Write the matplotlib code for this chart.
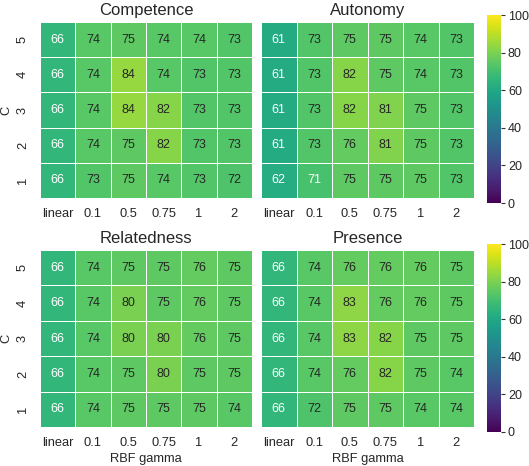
import numpy as np
import seaborn as sns
from matplotlib import pyplot as plt

# data (rows: C = 5..1, cols: linear + RBF gamma values)
c_labels = ['5', '4', '3', '2', '1']
gamma_labels = ['linear', '0.1', '0.5', '0.75', '1', '2']

competence = [[66, 74, 75, 74, 74, 73],
              [66, 74, 84, 74, 73, 73],
              [66, 74, 84, 82, 73, 73],
              [66, 74, 75, 82, 73, 73],
              [66, 73, 75, 74, 73, 72]]
autonomy = [[61, 73, 75, 75, 74, 73],
            [61, 73, 82, 75, 74, 73],
            [61, 73, 82, 81, 75, 73],
            [61, 73, 76, 81, 75, 73],
            [62, 71, 75, 75, 75, 73]]
relatedness = [[66, 74, 75, 75, 76, 75],
               [66, 74, 80, 75, 76, 75],
               [66, 74, 80, 80, 76, 75],
               [66, 74, 75, 80, 75, 75],
               [66, 74, 75, 75, 75, 74]]
presence = [[66, 74, 76, 76, 76, 75],
            [66, 74, 83, 76, 76, 75],
            [66, 74, 83, 82, 75, 75],
            [66, 74, 76, 82, 75, 74],
            [66, 72, 75, 75, 74, 74]]

sns.set_theme(style='white')
plt.rcParams['font.family'] = ['Liberation Sans', 'DejaVu Sans']

fig = plt.figure(figsize=(5.29, 4.66), dpi=100)

W, H = 529, 466
def px_axes(x0, y0, x1, y1):
    return fig.add_axes([x0 / W, (H - y1) / H, (x1 - x0) / W, (y1 - y0) / H])

panels = [
    ('Competence', competence, (40, 22, 252, 198), True, False),
    ('Autonomy', autonomy, (261, 22, 474, 198), False, False),
    ('Relatedness', relatedness, (40, 250, 252, 427), True, True),
    ('Presence', presence, (261, 250, 474, 427), False, True),
]
cbar_boxes = [(487, 15, 501, 203), (487, 244, 501, 432)]
cbar_axes = [px_axes(*b) for b in cbar_boxes]

fs = 9.3
for i, (title, data, box, left, bottom) in enumerate(panels):
    ax = px_axes(*box)
    cax = cbar_axes[i // 2] if not left else None
    sns.heatmap(np.array(data), ax=ax, cmap='viridis', vmin=0, vmax=100,
                annot=True, fmt='d', annot_kws={'fontsize': 9},
                linewidths=0.7, linecolor='white',
                xticklabels=gamma_labels, yticklabels=c_labels if left else False,
                cbar=not left, cbar_ax=cax)
    ax.set_title(title, fontsize=12, pad=5)
    ax.tick_params(axis='x', length=0, labelsize=fs, pad=7)
    ax.tick_params(axis='y', length=0, labelsize=fs, pad=8)
    ax.set_xticklabels(gamma_labels, rotation=0)
    if left:
        ax.set_yticklabels(c_labels, rotation=90, va='center')
        ax.set_ylabel('C', fontsize=fs, labelpad=3)
    if bottom:
        ax.set_xlabel('RBF gamma', fontsize=fs, labelpad=3)

for cax in cbar_axes:
    cax.set_yticks([0, 20, 40, 60, 80, 100])
    cax.tick_params(axis='y', length=3, width=0.8, labelsize=9, pad=2,
                    right=True, color='#333333')

fig.savefig('out.png', dpi=100)
